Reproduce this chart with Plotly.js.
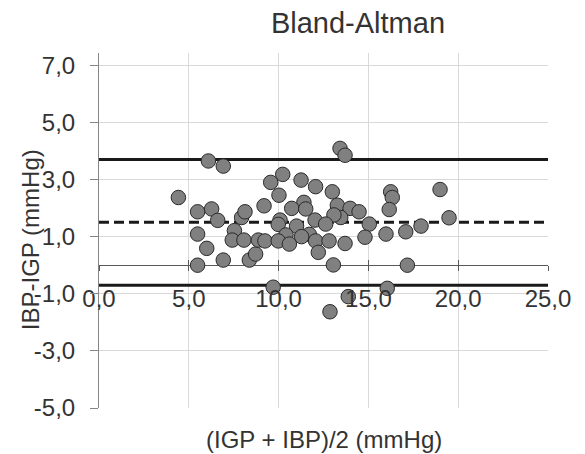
<!DOCTYPE html>
<html>
<head>
<meta charset="utf-8">
<script src="https://cdn.plot.ly/plotly-3.0.1.min.js"></script>
<style>html,body{margin:0;padding:0;background:#fff;}#chart{width:585px;height:454px;}</style>
</head>
<body>
<div id="chart"></div>
<script>
// Mean of the two methods (IGP + IBP)/2, mmHg
var meanValues = [4.42, 5.49, 6.27, 6.61, 5.49, 6.00, 5.49, 6.92, 7.54, 7.42,
  7.94, 8.13, 8.07, 8.37, 8.72, 8.87, 6.09, 6.92, 10.23, 9.56,
  11.25, 12.06, 12.99, 10.02, 9.19, 11.41, 10.73, 11.51, 13.27, 13.98,
  14.48, 13.46, 13.08, 12.03, 10.08, 9.98, 11.00, 12.62, 15.05, 10.41,
  11.71, 11.28, 9.24, 9.98, 10.60, 12.06, 12.81, 13.70, 14.81, 12.21,
  13.05, 13.42, 13.70, 16.24, 16.33, 16.16, 15.98, 17.08, 17.93, 18.99,
  19.49, 17.17, 16.05, 9.70, 13.88, 12.86];
// Difference IBP - IGP, mmHg
var diffValues = [2.37, 1.87, 1.97, 1.57, 1.09, 0.59, 0.00, 0.18, 1.21, 0.88,
  1.67, 1.87, 0.88, 0.18, 0.39, 0.88, 3.65, 3.47, 3.18, 2.90,
  2.98, 2.75, 2.57, 2.45, 2.08, 2.20, 1.99, 1.97, 2.10, 1.99,
  1.87, 1.67, 1.76, 1.58, 1.58, 1.43, 1.37, 1.44, 1.44, 1.06,
  1.08, 1.00, 0.85, 0.85, 0.74, 0.85, 0.85, 0.76, 0.98, 0.45,
  0.01, 4.09, 3.85, 2.57, 2.37, 1.95, 1.09, 1.17, 1.37, 2.65,
  1.66, 0.00, -0.81, -0.77, -1.10, -1.63];
// Bias and limits of agreement
var meanDiff = 1.5;
var upperLimit = 3.7;
var lowerLimit = -0.7;
// Axis extents and tick labels
var xRange = [0, 25];
var yRange = [-5, 7.43];
var xTickVals = [0, 5, 10, 15, 20, 25];
var xTickText = ['0,0', '5,0', '10,0', '15,0', '20,0', '25,0'];
var yTickVals = [-5, -3, -1, 1, 3, 5, 7];
var yTickText = ['-5,0', '-3,0', '-1,0', '1,0', '3,0', '5,0', '7,0'];
var titleText = 'Bland-Altman';
var xTitle = '(IGP + IBP)/2 (mmHg)';
var yTitle = 'IBP-IGP (mmHg)';

var FONT = '"Liberation Sans", Arial, sans-serif';
var TXT = '#333333';
var zeroFrac = (0 - yRange[0]) / (yRange[1] - yRange[0]);

function hline(v, dash) {
  return {x: xRange, y: [v, v], mode: 'lines', type: 'scatter', cliponaxis: false,
    line: {color: '#1a1a1a', width: 3, dash: dash}, hoverinfo: 'skip', showlegend: false};
}

var traces = [
  hline(upperLimit, 'solid'),
  hline(meanDiff, '10px,5px'),
  hline(lowerLimit, 'solid'),
  {x: meanValues, y: diffValues, mode: 'markers', type: 'scatter', showlegend: false,
    marker: {size: 14.5, color: '#808080', line: {color: '#2a2a2a', width: 1}}},
  {x: [], y: [], xaxis: 'x2', yaxis: 'y', mode: 'markers', type: 'scatter', showlegend: false}
];

var layout = {
  width: 585, height: 454,
  margin: {l: 99, r: 37, t: 53, b: 46},
  paper_bgcolor: '#ffffff', plot_bgcolor: '#ffffff',
  font: {family: FONT, color: TXT, size: 24},
  title: {text: titleText, font: {family: FONT, size: 29, color: TXT},
    x: 358 / 585, xanchor: 'center', xref: 'container', y: 0.972, yanchor: 'top', yref: 'container'},
  xaxis: {range: xRange, tickmode: 'array', tickvals: xTickVals, ticktext: xTickText,
    anchor: 'free', position: zeroFrac,
    showgrid: true, gridcolor: '#d9d9d9', gridwidth: 1,
    zeroline: false, showline: false,
    ticks: 'outside', ticklen: 5, tickcolor: '#595959', tickwidth: 1,
    ticklabelstandoff: 7,
    tickfont: {family: FONT, size: 24, color: TXT}},
  xaxis2: {range: xRange, tickmode: 'array', tickvals: xTickVals, overlaying: 'x', matches: 'x',
    anchor: 'free', position: zeroFrac,
    showgrid: false, zeroline: false, showline: false, showticklabels: false,
    ticks: 'inside', ticklen: 5, tickcolor: '#595959', tickwidth: 1},
  yaxis: {range: yRange, tickmode: 'array', tickvals: yTickVals, ticktext: yTickText,
    showgrid: true, gridcolor: '#d9d9d9', gridwidth: 1,
    zeroline: true, zerolinecolor: '#595959', zerolinewidth: 1,
    showline: true, linecolor: '#868686', linewidth: 1,
    ticks: 'outside', ticklen: 8, tickcolor: '#868686', tickwidth: 1,
    ticklabelstandoff: 10,
    tickfont: {family: FONT, size: 24, color: TXT}},
  annotations: [
    {text: xTitle, xref: 'paper', yref: 'paper', x: 0.5, y: (408 - 440) / 355.3,
      xanchor: 'center', yanchor: 'middle', showarrow: false,
      font: {family: FONT, size: 24, color: TXT}},
    {text: yTitle, xref: 'paper', yref: 'paper', x: (30 - 99) / 449, y: (408 - 240) / 355.3,
      xanchor: 'center', yanchor: 'middle', textangle: -90, showarrow: false,
      font: {family: FONT, size: 24, color: TXT}}
  ]
};

Plotly.newPlot('chart', traces, layout, {displayModeBar: false, staticPlot: true});
</script>
</body>
</html>
